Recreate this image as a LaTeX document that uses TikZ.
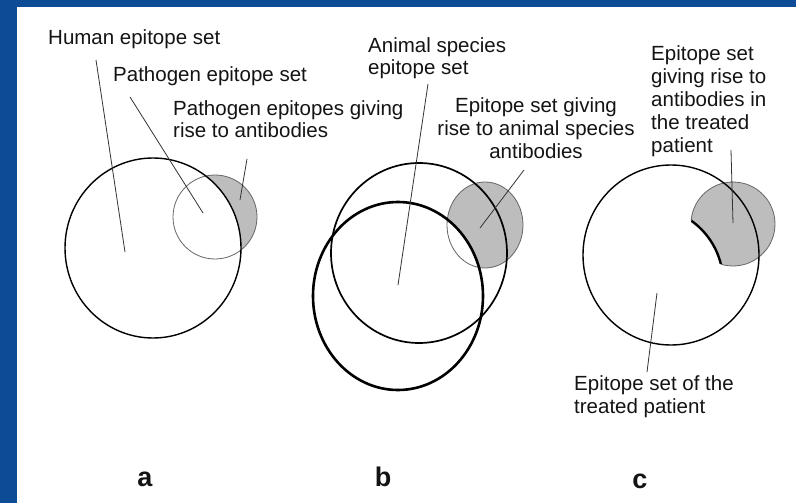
\documentclass[tikz,border=0pt]{standalone}
\usepackage{fontspec}
\setmainfont{Liberation Sans}
\usetikzlibrary{positioning}
\definecolor{slideblue}{HTML}{0D4B96}
\definecolor{epishade}{HTML}{BDBDBD}
\definecolor{epiink}{HTML}{141414}
\tikzset{
  setline/.style={draw=black, line width=1.4pt},
  thinset/.style={draw=black!60, line width=0.8pt},
  leader/.style={draw=black!80, line width=0.8pt},
  caption/.style={font=\fontsize{20.5}{23}\selectfont, text=epiink, inner sep=0pt, align=left},
  panelmark/.style={font=\bfseries\fontsize{27}{30}\selectfont, text=epiink, inner sep=0pt},
}

\begin{document}
\begin{tikzpicture}[x=1pt,y=-1pt]
        % slide frame
        \fill[slideblue] (0,0) rectangle (796,503);
        \fill[white] (17,7) rectangle (796,503);
        \useasboundingbox (0,0) rectangle (796,503);

        % a
        \begin{scope}
          \clip (215,217) circle (42);
          \fill[epishade, even odd rule] (153,248) ellipse (88 and 90) (0,0) rectangle (796,503);
        \end{scope}
        \draw[thinset] (215,217) circle (42);
        \draw[setline] (153,248) ellipse (88 and 90);

        % b
        \begin{scope}
          \clip (485,225) ellipse (38 and 43);
          \fill[epishade, even odd rule] (398,296) ellipse (85 and 94) (0,0) rectangle (796,503);
        \end{scope}
        \draw[thinset] (485,225) ellipse (38 and 43);
        \draw[setline, line width=1.7pt] (419,253) ellipse (88 and 90);
        \draw[setline, line width=2.6pt] (398,296) ellipse (85 and 94);

        % c
        \begin{scope}
          \clip (733,224) circle (42);
          \fill[epishade, even odd rule] (648,282) circle (75) (0,0) rectangle (796,503);
          \draw[line width=2.4pt] (648,282) circle (75);
        \end{scope}
        \begin{scope}[even odd rule]
          \clip (648,282) circle (75) (0,0) rectangle (796,503);
          \draw[thinset] (733,224) circle (42);
        \end{scope}
        \draw[setline] (671,255) ellipse (88 and 90);

        % labels (multi-line ones sit on their last baseline)
        \node[caption, anchor=base west] (humanset) at (48,45) {Human epitope set};
        \node[caption, anchor=base west] (pathset) at (113,82) {Pathogen epitope set};
        \node[caption, anchor=base west] (pathab) at (173,138) {Pathogen epitopes giving\\rise to antibodies};
        \node[caption, anchor=base west] (animalset) at (368,75) {Animal species\\epitope set};
        \node[caption, align=center, anchor=base] (animalab) at (536,158) {Epitope set giving\\rise to animal species\\antibodies};
        \node[caption, anchor=base west] (patab) at (651,152) {Epitope set\\giving rise to\\antibodies in\\the treated\\patient};
        \node[caption, anchor=base west] (patset) at (574,413) {Epitope set of the\\treated patient};

        \node[panelmark, anchor=base] (mark-a) at (145,486) {a};
        \node[panelmark, anchor=base] (mark-b) at (383,486) {b};
        \node[panelmark, anchor=base] (mark-c) at (640,488) {c};

        % leader lines
        \coordinate (humanset-s) at (96,60);
        \coordinate (humanset-e) at (125,252);
        \coordinate (pathset-s) at (130,97);
        \coordinate (pathset-e) at (203,213);
        \coordinate (pathab-s) at (247,159);
        \coordinate (pathab-e) at (240,200);
        \coordinate (animalset-s) at (428,84);
        \coordinate (animalset-e) at (398,285);
        \coordinate (animalab-s) at (524,170);
        \coordinate (animalab-e) at (480,228);
        \coordinate (patab-s) at (731,150);
        \coordinate (patab-e) at (733,223);
        \coordinate (patset-s) at (647,372);
        \coordinate (patset-e) at (657,293);
        \foreach \lab in {humanset,pathset,pathab,animalset,animalab,patab,patset}
          \draw[leader] (\lab-s) -- (\lab-e);
      \end{tikzpicture}
\end{document}
